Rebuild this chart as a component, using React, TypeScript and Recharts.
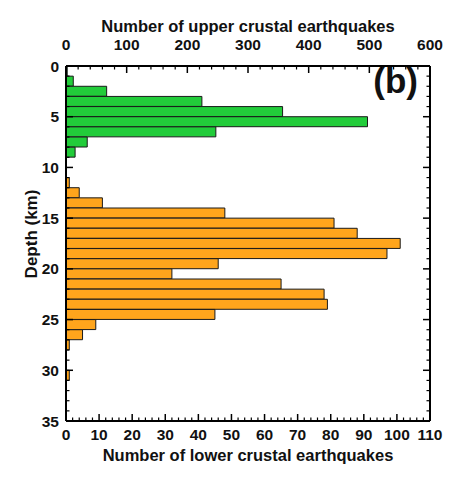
import { Bar, BarChart, Label, XAxis, YAxis } from "recharts";

// depth bins (top of each 1 km bin) and counts
const upperBins = [0, 1, 2, 3, 4, 5, 6, 7, 8];
const upperCounts = [2, 12, 67, 224, 357, 497, 247, 35, 15];
const lowerBins = [11, 12, 13, 14, 15, 16, 17, 18, 19, 20, 21, 22, 23, 24, 25, 26, 27, 28, 29, 30];
const lowerCounts = [1, 4, 11, 48, 81, 88, 101, 97, 46, 32, 65, 78, 79, 45, 9, 5, 1, 0, 0, 1];

const upperLabels = [0, 100, 200, 300, 400, 500, 600];
const lowerLabels = [0, 10, 20, 30, 40, 50, 60, 70, 80, 90, 100, 110];
const depthLabels = [0, 5, 10, 15, 20, 25, 30, 35];

const range = (max: number, step: number) => {
  const out: number[] = [];
  for (let v = 0; v <= max; v += step) out.push(v);
  return out;
};
const upperTicks = range(600, 20);
const lowerTicks = range(110, 2);
const depthTicks = range(35, 1);

const rows = Array.from(new Set([...upperBins, ...lowerBins]))
  .sort((a, b) => a - b)
  .map((bin) => {
    const u = upperBins.indexOf(bin);
    const l = lowerBins.indexOf(bin);
    return {
      depth: bin + 0.5,
      upper: u >= 0 ? upperCounts[u] : null,
      lower: l >= 0 ? lowerCounts[l] : null,
    };
  });

const W = 444;
const H = 463;
const LEFT = 58;
const TOP = 58;
const RIGHT = 22;
const BOTTOM = 50;
const plotRight = W - RIGHT;
const FONT = '"Liberation Sans", Arial, Helvetica, sans-serif';

const textStyle = { fontFamily: FONT, fontWeight: 700, fill: "#111" };

function TopTick({ x, y, payload }: any) {
  const major = upperLabels.includes(payload.value);
  return (
    <g>
      <line x1={x} x2={x} y1={y} y2={y + (major ? 7 : 3.5)} stroke="#000" strokeWidth={major ? 1.5 : 1.2} />
      {major && (
        <text x={x} y={y - 16} textAnchor="middle" fontSize={15.5} style={textStyle}>
          {payload.value}
        </text>
      )}
    </g>
  );
}

function BottomTick({ x, y, payload }: any) {
  const major = lowerLabels.includes(payload.value);
  return (
    <g>
      <line x1={x} x2={x} y1={y} y2={y - (major ? 7 : 3.5)} stroke="#000" strokeWidth={major ? 1.5 : 1.2} />
      {major && (
        <text x={x} y={y + 19} textAnchor="middle" fontSize={15.5} style={textStyle}>
          {payload.value}
        </text>
      )}
    </g>
  );
}

function LeftTick({ x, y, payload }: any) {
  const major = depthLabels.includes(payload.value);
  return (
    <g>
      <line x1={x} x2={x + (major ? 7 : 3.5)} y1={y} y2={y} stroke="#000" strokeWidth={major ? 1.5 : 1.2} />
      {major && (
        <text x={x - 7} y={y + 5.5} textAnchor="end" fontSize={15.5} style={textStyle}>
          {payload.value}
        </text>
      )}
    </g>
  );
}

function RightTick({ x, y, payload }: any) {
  const major = depthLabels.includes(payload.value);
  return (
    <line x1={x} x2={x - (major ? 7 : 3.5)} y1={y} y2={y} stroke="#000" strokeWidth={major ? 1.5 : 1.2} />
  );
}

const midX = (LEFT + plotRight) / 2;

export default function App() {
  return (
    <div style={{ width: W, height: H, background: "#fff" }}>
      <BarChart
        width={W}
        height={H}
        data={rows}
        layout="vertical"
        margin={{ top: 0, right: 0, bottom: 0, left: 0 }}
        barCategoryGap={0}
        barGap={0}
      >
        <XAxis
          xAxisId="upper"
          orientation="top"
          type="number"
          domain={[0, 600]}
          ticks={upperTicks}
          interval={0}
          height={TOP}
          tickSize={0}
          tickMargin={0}
          tick={<TopTick />}
          axisLine={{ stroke: "#000", strokeWidth: 2 }}
        >
          <Label
            content={() => (
              <text x={midX} y={24} textAnchor="middle" fontSize={16.5} style={textStyle}>
                Number of upper crustal earthquakes
              </text>
            )}
          />
        </XAxis>
        <XAxis
          xAxisId="lower"
          orientation="bottom"
          type="number"
          domain={[0, 110]}
          ticks={lowerTicks}
          interval={0}
          height={BOTTOM}
          tickSize={0}
          tickMargin={0}
          tick={<BottomTick />}
          axisLine={{ stroke: "#000", strokeWidth: 2 }}
        >
          <Label
            content={() => (
              <text x={midX} y={453} textAnchor="middle" fontSize={16.5} style={textStyle}>
                Number of lower crustal earthquakes
              </text>
            )}
          />
        </XAxis>
        <YAxis
          yAxisId="left"
          orientation="left"
          type="number"
          dataKey="depth"
          domain={[0, 35]}
          ticks={depthTicks}
          interval={0}
          width={LEFT}
          tickSize={0}
          tickMargin={0}
          tick={<LeftTick />}
          axisLine={{ stroke: "#000", strokeWidth: 2 }}
        >
          <Label
            content={() => (
              <text
                x={29}
                y={226}
                transform="rotate(-90 29 226)"
                textAnchor="middle"
                fontSize={17}
                style={textStyle}
              >
                Depth (km)
              </text>
            )}
          />
        </YAxis>
        <YAxis
          yAxisId="right"
          orientation="right"
          type="number"
          dataKey="depth"
          domain={[0, 35]}
          ticks={depthTicks}
          interval={0}
          width={RIGHT}
          tickSize={0}
          tickMargin={0}
          tick={<RightTick />}
          axisLine={{ stroke: "#000", strokeWidth: 2 }}
        >
          <Label
            content={() => (
              <text x={410} y={85} textAnchor="end" fontSize={35} style={textStyle}>
                (b)
              </text>
            )}
          />
        </YAxis>
        <Bar
          xAxisId="upper"
          yAxisId="left"
          dataKey="upper"
          fill="#22CC3A"
          stroke="#1a1a1a"
          strokeWidth={1}
          isAnimationActive={false}
        />
        <Bar
          xAxisId="lower"
          yAxisId="right"
          dataKey="lower"
          fill="#FFA51C"
          stroke="#1a1a1a"
          strokeWidth={1}
          isAnimationActive={false}
        />
      </BarChart>
    </div>
  );
}
